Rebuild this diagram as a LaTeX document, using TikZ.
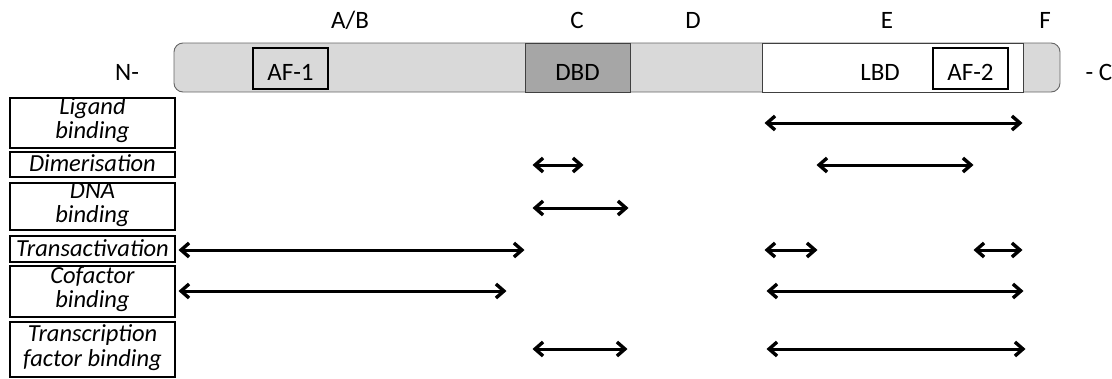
\documentclass[tikz,border=0pt]{standalone}
\usepackage{fontspec}
\setmainfont{Carlito}
\usetikzlibrary{arrows.meta}
\begin{document}
\begin{tikzpicture}[x=1pt,y=-1pt,
  lbl/.style={font=\fontsize{25}{25}\selectfont, inner sep=0pt, anchor=base},
  bar/.style={draw=gray!80!black, line width=0.9pt, fill=black!15, rounded corners=9pt, inner sep=0pt},
  dom/.style={draw=black!75, line width=1pt, inner sep=0pt},
  af/.style={draw=black, line width=1.8pt, inner sep=0pt, fill=none},
  fbox/.style={draw=black, line width=1.8pt, inner sep=0pt, minimum width=165pt},
  ftext/.style={font=\fontsize{24.5}{24}\selectfont\itshape, inner sep=0pt, anchor=base},
  arr/.style={line width=3pt, {Straight Barb[length=8pt,width=14pt,line width=3.4pt]}-{Straight Barb[length=8pt,width=14pt,line width=3.4pt]}, shorten <=1.5pt, shorten >=1.5pt}
]
\useasboundingbox (0,0) rectangle (1112,378);
% labels
\node[lbl] (lAB) at (350,28) {A/B};
\node[lbl] (lC) at (577,28) {C};
\node[lbl] (lD) at (693,28) {D};
\node[lbl] (lE) at (887,28) {E};
\node[lbl] (lF) at (1045,28) {F};
% bar
\node[bar, minimum width=886pt, minimum height=49pt] (bar) at (617,67.5) {};
\node[dom, fill=black!35, minimum width=105pt, minimum height=49pt] (dbd) at (577.5,67.5) {};
\node[dom, fill=white, minimum width=261pt, minimum height=49pt] (lbd) at (892.5,67.5) {};
\node[af, minimum width=75pt, minimum height=41pt] (af1) at (290.5,68.5) {};
\node[af, minimum width=75pt, minimum height=41pt] (af2) at (970.5,68.5) {};
\node[lbl] (dbdt) at (577.5,80) {DBD};
\node[lbl] (lbdt) at (880,80) {LBD};
\node[lbl] (af1t) at (290.5,80) {AF-1};
\node[lbl] (af2t) at (970.5,80) {AF-2};
\node[lbl] (nterm) at (127,80) {N-};
\node[lbl] (cterm) at (1099,80) {- C};
% function boxes
\node[fbox, minimum height=50pt] (b1) at (92.5,123) {};
\node[fbox, minimum height=25pt] (b2) at (92.5,164.5) {};
\node[fbox, minimum height=47pt] (b3) at (92.5,206.5) {};
\node[fbox, minimum height=26pt] (b4) at (92.5,249) {};
\node[fbox, minimum height=51pt] (b5) at (92.5,291.5) {};
\node[fbox, minimum height=55pt] (b6) at (92.5,349.5) {};
\node[ftext] (t1a) at (92.5,114) {Ligand};
\node[ftext] (t1b) at (92.5,138) {binding};
\node[ftext] (t2) at (92.5,171) {Dimerisation};
\node[ftext] (t3a) at (92.5,198) {DNA};
\node[ftext] (t3b) at (92.5,222) {binding};
\node[ftext] (t4) at (92.5,256) {Transactivation};
\node[ftext] (t5a) at (92.5,283) {Cofactor};
\node[ftext] (t5b) at (92.5,307) {binding};
\node[ftext] (t6a) at (92.5,341) {Transcription};
\node[ftext] (t6b) at (92.5,366) {factor binding};
% arrow endpoints
\coordinate (a1s) at (763,123); \coordinate (a1e) at (1024,123);
\coordinate (a2s) at (531,165); \coordinate (a2e) at (585,165);
\coordinate (a3s) at (815,165); \coordinate (a3e) at (975,165);
\coordinate (a4s) at (531,208); \coordinate (a4e) at (630,208);
\coordinate (a5s) at (177,250); \coordinate (a5e) at (526,250);
\coordinate (a6s) at (763,250); \coordinate (a6e) at (819,250);
\coordinate (a7s) at (972,250); \coordinate (a7e) at (1024,250);
\coordinate (a8s) at (177,291); \coordinate (a8e) at (508,291);
\coordinate (a9s) at (765,291); \coordinate (a9e) at (1025,291);
\coordinate (a10s) at (531,349); \coordinate (a10e) at (629,349);
\coordinate (a11s) at (765,349); \coordinate (a11e) at (1027,349);
\foreach \s/\e in {a1s/a1e,a2s/a2e,a3s/a3e,a4s/a4e,a5s/a5e,a6s/a6e,a7s/a7e,a8s/a8e,a9s/a9e,a10s/a10e,a11s/a11e}
  \draw[arr] (\s) -- (\e);
\end{tikzpicture}
\end{document}
